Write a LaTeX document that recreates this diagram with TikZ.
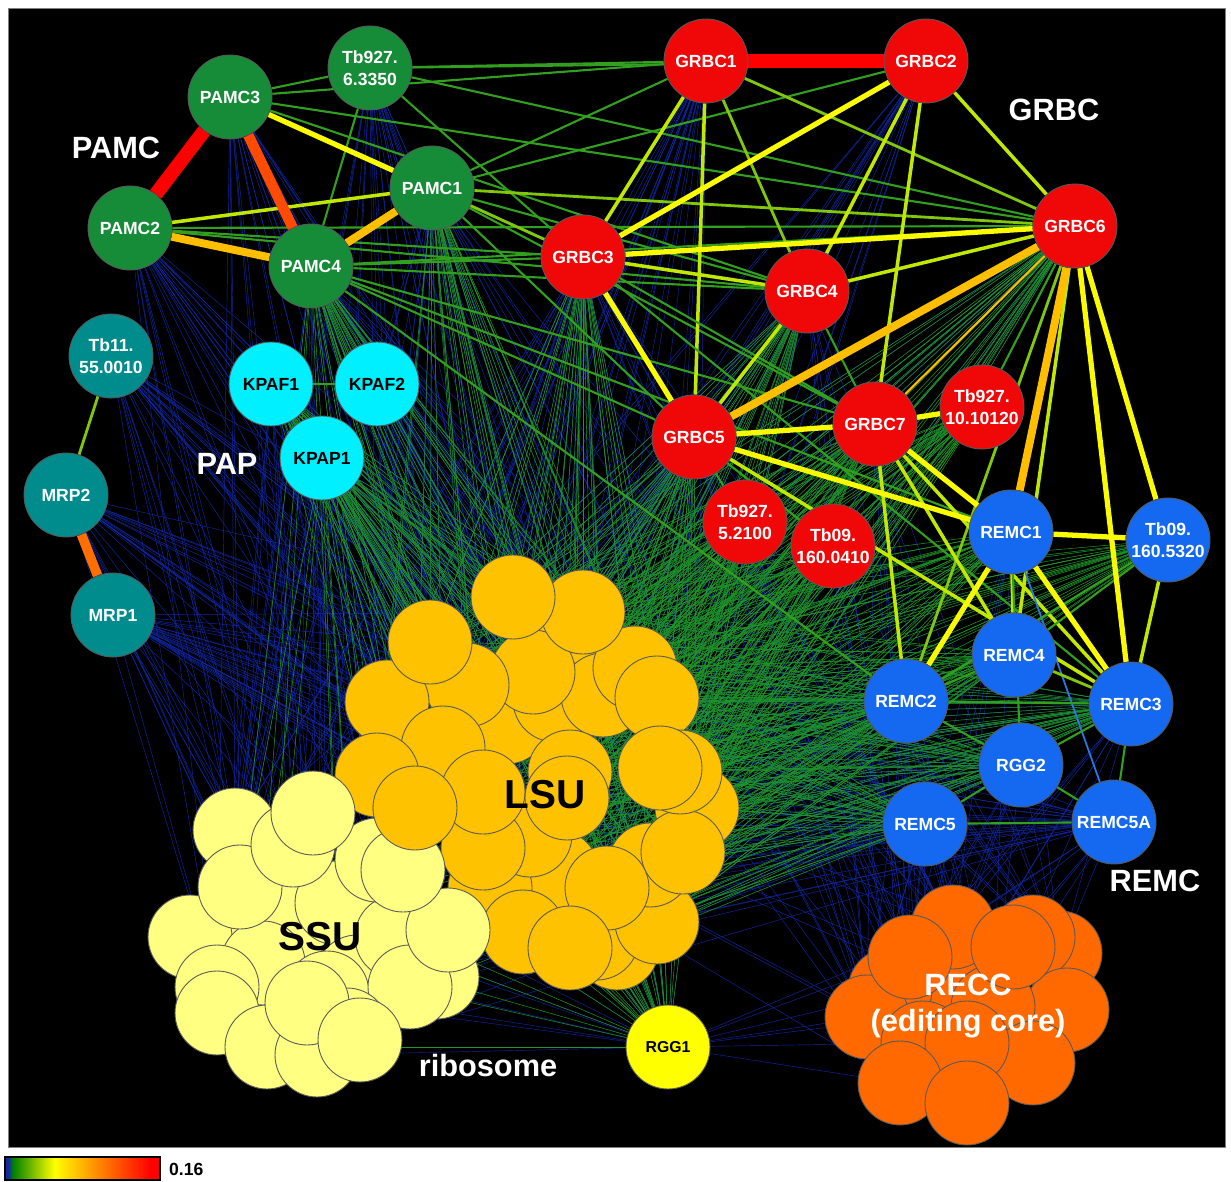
\documentclass[tikz,border=0pt]{standalone}
\usepackage{fontspec}
\setmainfont{Liberation Sans}
\usepackage{xcolor}
\usepackage{tikz}
\usetikzlibrary{arrows,calc}
\usetikzlibrary{positioning}

\definecolor{pgreen}{RGB}{22,140,56}
\definecolor{gred}{RGB}{240,8,8}
\definecolor{rblue}{RGB}{20,105,240}
\definecolor{mteal}{RGB}{0,140,140}
\definecolor{kcyan}{RGB}{0,240,255}
\definecolor{lsuc}{RGB}{255,194,0}
\definecolor{ssuc}{RGB}{255,255,130}
\definecolor{reccc}{RGB}{255,105,0}
\definecolor{ryel}{RGB}{255,255,0}
\definecolor{ered}{RGB}{255,0,0}
\definecolor{eredor}{RGB}{255,75,0}
\definecolor{edor}{RGB}{255,110,0}
\definecolor{eor}{RGB}{255,190,0}
\definecolor{eyel}{RGB}{250,250,0}
\definecolor{elime}{RGB}{195,232,0}
\definecolor{eyg}{RGB}{130,200,10}
\definecolor{egreen}{RGB}{50,160,30}
\definecolor{fblue}{RGB}{15,40,170}
\definecolor{fgreen}{RGB}{30,150,40}
\definecolor{lblue}{RGB}{40,120,230}

\pgfdeclarehorizontalshading{scorebar}{100bp}{color(0bp)=(fblue); color(25bp)=(fblue); color(26bp)=(fblue); color(27.5bp)=(green!50!black); color(41bp)=(yellow); color(56bp)=(orange); color(72bp)=(red); color(100bp)=(red)}

\pgfdeclarelayer{back}
\pgfdeclarelayer{wires}
\pgfsetlayers{back,wires,main}

\begin{document}
\begin{tikzpicture}[x=0.02cm,y=-0.02cm]
	\tikzstyle{prot}=[circle, draw=gray!70!black, line width=0.5pt, minimum size=1.68cm, inner sep=0pt, text=white, font=\fontsize{10}{12.5}\selectfont\bfseries, align=center]
	\tikzstyle{pamc}=[prot, fill=pgreen]
	\tikzstyle{grbc}=[prot, fill=gred]
	\tikzstyle{remc}=[prot, fill=rblue]
	\tikzstyle{mrp}=[prot, fill=mteal]
	\tikzstyle{kpaf}=[prot, fill=kcyan, text=black]
	\tikzstyle{lsu}=[circle, draw=gray!70!black, line width=0.5pt, minimum size=1.68cm, inner sep=0pt, fill=lsuc]
	\tikzstyle{ssu}=[lsu, fill=ssuc]
	\tikzstyle{recc}=[lsu, fill=reccc]
	\tikzstyle{group}=[text=white, font=\fontsize{17.5}{21}\selectfont\bfseries, align=center]
	\tikzstyle{sub}=[text=black, font=\fontsize{23}{26}\selectfont\bfseries]
	\tikzstyle{fb}=[draw=fblue, line width=0.25pt]
	\tikzstyle{fg}=[draw=fgreen, line width=0.3pt]
	\tikzstyle{wb}=[draw=lblue, line width=1pt]
	\tikzstyle{wg}=[draw=egreen, line width=1.2pt]
	\tikzstyle{wyg}=[draw=eyg, line width=1.6pt]
	\tikzstyle{wl}=[draw=elime, line width=2pt]
	\tikzstyle{wy}=[draw=eyel, line width=3pt]
	\tikzstyle{wo}=[draw=eor, line width=4.5pt]
	\tikzstyle{wdo}=[draw=edor, line width=5.5pt]
	\tikzstyle{wro}=[draw=eredor, line width=6pt]
	\tikzstyle{wr}=[draw=ered, line width=8pt]

	\useasboundingbox (0,0) rectangle (1231,1182);
	\begin{pgfonlayer}{back}
		\fill[white] (0,0) rectangle (1231,1182);
		\draw[gray, fill=black] (8,8) rectangle (1225,1147);
	\end{pgfonlayer}

	% PAMC
	\node[pamc] (pamc3) at (230,97) {PAMC3};
	\node[pamc] (tbsix) at (370,68) {Tb927.\\6.3350};
	\node[pamc] (pamc2) at (130,228) {PAMC2};
	\node[pamc] (pamc4) at (311,266) {PAMC4};
	\node[pamc] (pamc1) at (432,188) {PAMC1};
	% GRBC
	\node[grbc] (grbc1) at (706,61) {GRBC1};
	\node[grbc] (grbc2) at (926,61) {GRBC2};
	\node[grbc] (grbc6) at (1075,226) {GRBC6};
	\node[grbc] (grbc3) at (583,257) {GRBC3};
	\node[grbc] (grbc4) at (807,291) {GRBC4};
	\node[grbc] (grbc5) at (694,437) {GRBC5};
	\node[grbc] (grbc7) at (875,424) {GRBC7};
	\node[grbc] (tbten) at (982,407) {Tb927.\\10.10120};
	\node[grbc] (tbfive) at (745,522) {Tb927.\\5.2100};
	\node[grbc] (tbzero) at (833,546) {Tb09.\\160.0410};
	% REMC
	\node[remc] (remc1) at (1011,532) {REMC1};
	\node[remc] (tbfz) at (1168,540) {Tb09.\\160.5320};
	\node[remc] (remc4) at (1014,655) {REMC4};
	\node[remc] (remc2) at (906,701) {REMC2};
	\node[remc] (remc3) at (1131,704) {REMC3};
	\node[remc] (rgg2) at (1021,765) {RGG2};
	\node[remc] (remc5) at (925,824) {REMC5};
	\node[remc] (remc5a) at (1114,822) {REMC5A};
	% MRP and PAP
	\node[mrp] (tbel) at (111,356) {Tb11.\\55.0010};
	\node[mrp] (mrp2) at (66,495) {MRP2};
	\node[mrp] (mrp1) at (113,615) {MRP1};
	\node[kpaf] (kpaf1) at (271,384) {KPAF1};
	\node[kpaf] (kpaf2) at (377,384) {KPAF2};
	\node[kpaf] (kpap1) at (322,458) {KPAP1};
	\node[prot, fill=ryel, text=black, font=\fontsize{9}{11}\selectfont\bfseries] (rgg1) at (668,1047) {RGG1};

	% ribosome
	\foreach \x/\y [count=\i] in {507/722, 573/645, 555/700, 617/948, 557/872, 490/888, 697/808, 597/938, 657/922, 523/932, 530/835, 483/848, 650/865, 683/852, 603/695, 635/668, 533/672, 467/685, 387/702, 657/698, 443/748, 377/775, 483/792, 570/772, 680/772, 660/768, 583/612, 513/597, 430/642, 567/798, 607/888, 570/948}
		\node[lsu] (L\i) at (\x,\y) {};
	\foreach \x/\y [count=\i] in {235/830, 260/930, 190/937, 297/917, 337/903, 263/963, 217/987, 217/1013, 357/977, 327/993, 397/937, 437/977, 410/987, 267/1047, 347/1030, 317/1055, 307/1003, 360/1040, 377/860, 448/930, 403/870, 240/887, 293/845, 313/813}
		\node[ssu] (S\i) at (\x,\y) {};
	\node[lsu] (L33) at (415,808) {};
	% editing core
	\foreach \x/\y [count=\i] in {950/985, 1060/953, 1033/937, 953/927, 890/990, 867/1017, 1067/1010, 993/1007, 1033/1063, 923/1043, 967/1043, 900/1083, 967/1103, 910/957, 1013/947}
		\node[recc] (R\i) at (\x,\y) {};

	% labels
	\node[group] (lpamc) at (116,148) {PAMC};
	\node[group] (lgrbc) at (1054,110) {GRBC};
	\node[group] (lpap) at (227,464) {PAP};
	\node[group] (lremc) at (1155,881) {REMC};
	\node[group] (lribo) at (488,1066) {ribosome};
	\node[group] (lrecc) at (968,1006) {RECC\\(editing core)};
	\node[sub] (llsu) at (545,795) {LSU};
	\node[sub] (lssu) at (320,937) {SSU};

	% colour key
	\shadedraw[shading=scorebar, draw=black, line width=0.8pt] (5,1157) rectangle (160,1180);
	\node[anchor=west, font=\fontsize{10}{12}\selectfont\bfseries] (key) at (163,1169) {0.16};

	\begin{pgfonlayer}{wires}
	% faint background
	\foreach \c in {1,3,...,33}{
		\foreach \n in {pamc2,pamc3,pamc4,pamc1,tbsix,kpaf1,kpaf2,kpap1,mrp1,mrp2,tbel,grbc1,grbc2,grbc3,grbc4,grbc5,grbc6,remc5,remc5a,rgg1,rgg2,remc2,remc3}
			\path (L\c) edge[fb] (\n);
	}
	\foreach \c in {1,4,...,24}{
		\foreach \n in {pamc2,pamc3,pamc4,pamc1,kpaf1,kpap1,mrp1,mrp2,tbel,tbsix,grbc3,grbc5,grbc1,remc2,remc5,remc5a,rgg1}
			\path (S\c) edge[fb] (\n);
	}
	\foreach \c in {2,4,...,14}{
		\foreach \n in {pamc4,pamc1,grbc3,grbc4,grbc5,grbc7,remc2,remc5,remc5a,rgg2,remc3,remc1,rgg1,tbfive,tbzero,mrp1}
			\path (R\c) edge[fb] (\n);
	}
	\foreach \c in {1,...,33}{
		\foreach \n in {pamc4,pamc1,kpap1,kpaf1,grbc3,grbc4,grbc5,grbc6,grbc7,tbten,tbfive,tbzero,remc1,remc2,remc3,remc4,rgg2,remc5,tbfz,rgg1}
			\path (L\c) edge[fg] (\n);
	}
	\foreach \c in {2,5,9,14,19,22}{
		\foreach \n in {kpap1,pamc4,remc2,remc3,rgg1}
			\path (S\c) edge[fg] (\n);
	}

	% medium
	\path
		(mrp2) edge[wyg] (tbel)
		(kpaf1) edge[wg] (kpaf2)
		(tbsix) edge[wg] (pamc3)
		(tbsix) edge[wg] (pamc4)
		(tbsix) edge[wg] (grbc1)
		(tbsix) edge[wg] (grbc2)
		(tbsix) edge[wg] (grbc3)
		(tbsix) edge[wg] (grbc6)
		(pamc3) edge[wg] (grbc1)
		(pamc3) edge[wg] (grbc3)
		(pamc3) edge[wg] (grbc6)
		(pamc3) edge[wg] (grbc4)
		(pamc2) edge[wg] (grbc3)
		(pamc2) edge[wg] (grbc6)
		(pamc2) edge[wg] (grbc4)
		(pamc1) edge[wg] (grbc1)
		(pamc1) edge[wg] (grbc2)
		(pamc1) edge[wyg] (grbc3)
		(pamc1) edge[wg] (grbc4)
		(pamc1) edge[wg] (grbc5)
		(pamc1) edge[wyg] (grbc6)
		(pamc1) edge[wg] (grbc7)
		(pamc4) edge[wg] (grbc3)
		(pamc4) edge[wg] (grbc4)
		(pamc4) edge[wg] (grbc5)
		(pamc4) edge[wg] (grbc6)
		(pamc4) edge[wg] (grbc7)
		(pamc4) edge[wg] (remc1)
		(pamc4) edge[wg] (remc2)
		(grbc1) edge[wl] (grbc3)
		(grbc1) edge[wyg] (grbc4)
		(grbc1) edge[wl] (grbc5)
		(grbc1) edge[wyg] (grbc6)
		(grbc2) edge[wl] (grbc4)
		(grbc2) edge[wl] (grbc7)
		(grbc2) edge[wl] (grbc6)
		(grbc3) edge[wl] (grbc4)
		(grbc3) edge[wg] (grbc7)
		(grbc3) edge[wg] (remc3)
		(grbc4) edge[wl] (grbc6)
		(grbc4) edge[wl] (grbc5)
		(grbc4) edge[wg] (grbc7)
		(grbc6) edge[draw=eor, line width=1.2pt] (grbc7)
		(grbc6) edge[wg] (tbten)
		(grbc6) edge[wl] (remc4)
		(grbc6) edge[wyg] (remc2)
		(grbc5) edge[wg] (tbfive)
		(grbc5) edge[wg] (tbzero)
		(grbc5) edge[wl] (remc3)
		(grbc7) edge[wl] (remc2)
		(grbc7) edge[wl] (remc4)
		(grbc7) edge[wl] (remc3)
		(remc1) edge[wl] (remc4)
		(remc1) edge[wg] (rgg2)
		(remc1) edge[wb] (remc5a)
		(tbfz) edge[wl] (remc3)
		(tbfz) edge[wg] (remc4)
		(tbfz) edge[wg] (remc2)
		(remc4) edge[wyg] (remc3)
		(remc4) edge[wg] (remc2)
		(remc2) edge[wg] (remc3)
		(remc2) edge[wg] (rgg2)
		(rgg2) edge[wg] (remc5a)
		(rgg2) edge[wg] (remc5)
		(rgg2) edge[wg] (remc3)
		(remc5) edge[wg] (remc5a)
		(remc3) edge[wg] (remc5a)
		;

	% strong
	\path
		(pamc2) edge[wl] (pamc1)
		(pamc3) edge[wy] (pamc1)
		(grbc2) edge[wy] (grbc3)
		(grbc3) edge[wy] (grbc5)
		(grbc3) edge[wy] (grbc6)
		(grbc5) edge[wy] (grbc7)
		(grbc7) edge[wy] (tbten)
		(grbc5) edge[wy] (remc1)
		(grbc7) edge[wy] (remc1)
		(remc1) edge[wy] (tbfz)
		(remc1) edge[wy] (remc3)
		(remc1) edge[wy] (remc2)
		(grbc6) edge[wy] (tbfz)
		(grbc6) edge[wy] (remc3)
		(pamc2) edge[wo] (pamc4)
		(pamc4) edge[wo] (pamc1)
		(grbc5) edge[wo] (grbc6)
		(grbc6) edge[wo] (remc1)
		(mrp2) edge[wdo] (mrp1)
		(pamc3) edge[wro] (pamc4)
		(pamc3) edge[wr] (pamc2)
		(grbc1) edge[wr] (grbc2)
		;
	\end{pgfonlayer}
\end{tikzpicture}
\end{document}
